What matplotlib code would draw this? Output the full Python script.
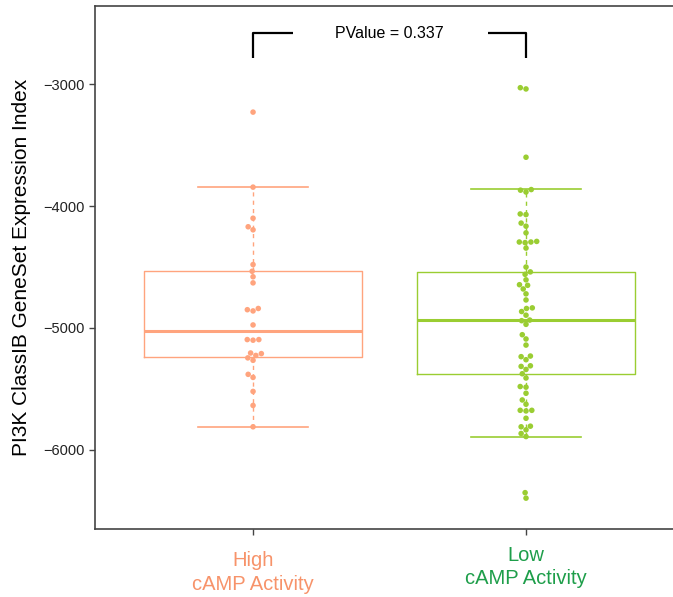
import matplotlib

matplotlib.use("Agg")
import matplotlib.pyplot as plt  # noqa: E402
import matplotlib.transforms as mtransforms  # noqa: E402
import pandas as pd  # noqa: E402
import seaborn as sns  # noqa: E402

# Groups and colours
groups = ["High\ncAMP Activity", "Low\ncAMP Activity"]
box_colors = ["#FFA47E", "#9ACD32"]
label_colors = ["#F7936A", "#1E9E4A"]

# Individual sample values
high_values = [
    -3230, -3845, -4100, -4170, -4195, -4480, -4535, -4580, -4630, -4840,
    -4850, -4860, -4975, -5095, -5095, -5100, -5205, -5210, -5225, -5245,
    -5265, -5380, -5405, -5520, -5635, -5810,
]
low_values = [
    -3030, -3040, -3600, -3865, -3870, -3885, -4065, -4070, -4140, -4165,
    -4220, -4290, -4295, -4300, -4295, -4345, -4500, -4540, -4560, -4605,
    -4645, -4650, -4680, -4720, -4770, -4835, -4840, -4865, -4895, -4935,
    -4940, -4970, -5055, -5090, -5140, -5230, -5235, -5260, -5310, -5315,
    -5340, -5375, -5410, -5480, -5485, -5535, -5590, -5625, -5675, -5680,
    -5675, -5740, -5805, -5810, -5835, -5865, -5890, -6350, -6395,
]

# Box statistics
q1 = [-5236, -5379]
median = [-5023, -4938]
q3 = [-4529, -4537]
whisker_low = [-5812, -5894]
whisker_high = [-3842, -3858]

pvalue_text = "PValue = 0.337"
bracket_top = -2582
bracket_bottom = -2787

plt.rcParams["font.family"] = ["Liberation Sans", "DejaVu Sans"]

df = pd.DataFrame(
    {
        "group": [groups[0]] * len(high_values) + [groups[1]] * len(low_values),
        "value": high_values + low_values,
    }
)

fig = plt.figure(figsize=(6.73, 5.97), dpi=100)
ax = fig.add_axes([95 / 673, 1 - 529 / 597, 1 - 95 / 673, (529 - 6) / 597])

sns.swarmplot(
    data=df, x="group", y="value", hue="group", order=groups,
    palette=dict(zip(groups, box_colors)), size=4.0, ax=ax, legend=False,
    zorder=3,
)

for i in range(2):
    stats = [dict(med=median[i], q1=q1[i], q3=q3[i],
                  whislo=whisker_low[i], whishi=whisker_high[i], fliers=[])]
    c = box_colors[i]
    ax.bxp(
        stats, positions=[i], widths=0.8, showfliers=False, manage_ticks=False,
        boxprops=dict(color=c, linewidth=1.0),
        medianprops=dict(color=c, linewidth=2.2),
        whiskerprops=dict(color=c, linewidth=1.0, linestyle=(0, (3, 3))),
        capprops=dict(color=c, linewidth=1.2),
        capwidths=0.4,
    )

# Significance bracket
ax.plot([0, 0, 0.147], [bracket_bottom, bracket_top, bracket_top],
        color="black", linewidth=1.6, solid_capstyle="butt")
ax.plot([0.861, 1, 1], [bracket_top, bracket_top, bracket_bottom],
        color="black", linewidth=1.6, solid_capstyle="butt")
ax.text(0.5, bracket_top, pvalue_text, ha="center", va="center", fontsize=11.5)

ax.set_xlim(-0.579, 1.5385)
ax.set_ylim(-6648, -2360)
ax.set_yticks([-6000, -5000, -4000, -3000])
ax.set_yticklabels(["\u22126000", "\u22125000", "\u22124000", "\u22123000"])
ax.set_xticks([0, 1])
ax.set_xticklabels(["", ""])
ax.set_xlabel("")
ax.set_ylabel("PI3K ClassIB GeneSet Expression Index", fontsize=15, labelpad=9)

# Category labels (second one sits a little higher in the reference)
trans = mtransforms.blended_transform_factory(ax.transData, ax.transAxes)
label_offsets = [-0.043, -0.032]
for i, g in enumerate(groups):
    ax.text(i, label_offsets[i], g, transform=trans, ha="center", va="top",
            fontsize=14.5, color=label_colors[i], linespacing=1.3)

for side in ["left", "bottom", "top"]:
    ax.spines[side].set_color("#444444")
    ax.spines[side].set_linewidth(1.2)
ax.spines["right"].set_visible(False)
ax.tick_params(axis="both", colors="#444444", length=4, width=1.0,
               labelsize=10.5, labelcolor="#222222")

fig.savefig("out.png", dpi=100)
plt.close(fig)
